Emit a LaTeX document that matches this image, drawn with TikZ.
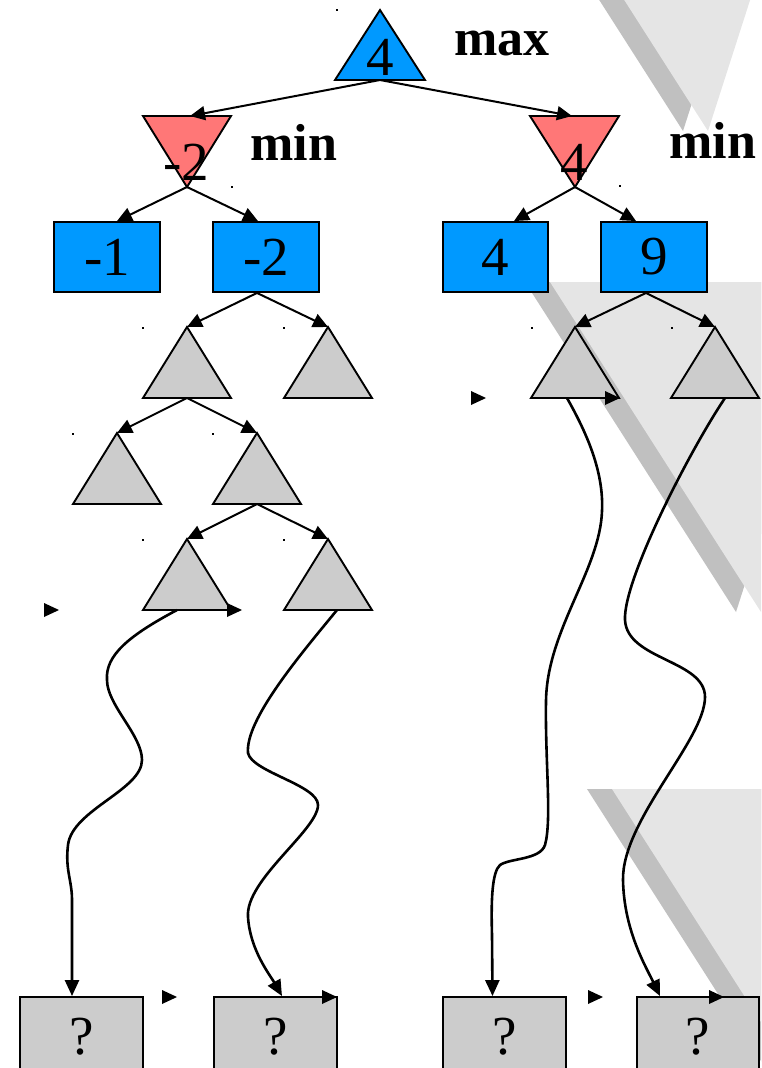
\documentclass[tikz,border=0pt]{standalone}
\usepackage{fontspec}
\setmainfont{Liberation Serif}
\usetikzlibrary{arrows.meta}
\definecolor{nodeblue}{RGB}{0,153,255}
\definecolor{minred}{RGB}{255,119,119}
\definecolor{leafgray}{RGB}{204,204,204}
\definecolor{bglight}{RGB}{229,229,229}
\definecolor{bgdark}{RGB}{192,192,192}
\newcommand\treetri[4]{% name, cx, apex y, fill
  \path[outline,fill=#4] (#2,#3) -- ({#2+44},{#3+71}) -- ({#2-44},{#3+71}) -- cycle;
  \coordinate (#1-t) at (#2,#3);
  \coordinate (#1-b) at (#2,{#3+71});
}
\newcommand\bgtri[3]{\fill[#3] (#1,#2) -- ({#1-211},{#2-330}) -- ({#1+106},{#2-330}) -- cycle;}
\newcommand\stray[2]{\fill[black] (#1,#2) -- ({#1-15},{#2-7}) -- ({#1-15},{#2+7}) -- cycle;}
\newcommand\speck[2]{\fill[black] ({#1-0.7},{#2-0.7}) rectangle ({#1+0.7},{#2+0.7});}
\begin{document}
\begin{tikzpicture}[x=1pt,y=-1pt,
  outline/.style={draw=black,line width=1.9pt,line join=miter},
  edge/.style={line width=2pt,-{Triangle[length=15pt,width=14pt]}},
  wavy/.style={line width=2.6pt,-{Triangle[length=16pt,width=14pt]}},
  val/.style={font=\fontsize{55}{60}\selectfont,anchor=base,inner sep=0pt},
  lbl/.style={font=\fontsize{52}{58}\selectfont\bfseries,anchor=base,inner sep=0pt},
  box/.style={outline,rectangle,minimum width=106pt,minimum height=70pt,inner sep=0pt,font=\fontsize{55}{60}\selectfont},
  leaf/.style={outline,fill=leafgray,rectangle,minimum width=123pt,minimum height=80pt,inner sep=0pt,font=\fontsize{55}{60}\selectfont}]
\useasboundingbox (0,0) rectangle (761,1068);
% background decoration
\begin{scope}
\clip (0,0) rectangle (761,1068);
\bgtri{683}{131}{bgdark}
\bgtri{708}{131}{bglight}
\bgtri{736}{612}{bgdark}
\bgtri{761}{612}{bglight}
\bgtri{798}{1119}{bgdark}
\bgtri{823}{1119}{bglight}
\end{scope}
% root (max)
\path[outline,fill=nodeblue] (380,10) -- (425,80) -- (335,80) -- cycle;
\coordinate (root-b) at (380,80);
\node[val] (rootval) at (380,75) {4};
\node[lbl] (maxlbl) at (502,55) {max};
% min nodes
\path[outline,fill=minred] (143,116) -- (231,116) -- (187,187) -- cycle;
\coordinate (lmin-t) at (190,116);
\coordinate (lmin-b) at (187,187);
\node[val] (lminval) at (186,180) {-2};
\node[lbl] (lminlbl) at (294,160) {min};
\path[outline,fill=minred] (530,116) -- (619,116) -- (575,187) -- cycle;
\coordinate (rmin-t) at (572,116);
\coordinate (rmin-b) at (575,187);
\node[val] (rminval) at (574,180) {4};
\node[lbl] (rminlbl) at (713,158) {min};
% value boxes
\node[box,fill=nodeblue] (b1) at (107,257) {-1};
\node[box,fill=nodeblue] (b2) at (266,257) {-2};
\node[box,fill=nodeblue,minimum width=105pt] (b3) at (495.5,257) {4};
\node[box,fill=nodeblue] (b4) at (654,257) {9};
% grey subtrees
\treetri{t1}{187}{327}{leafgray}
\treetri{t2}{328}{327}{leafgray}
\treetri{t3}{117}{433}{leafgray}
\treetri{t4}{257}{433}{leafgray}
\treetri{t5}{187}{539}{leafgray}
\treetri{t6}{328}{539}{leafgray}
\treetri{t7}{575}{327}{leafgray}
\treetri{t8}{715}{327}{leafgray}
% leaves
\node[leaf] (q1) at (81.5,1037) {?};
\node[leaf] (q2) at (275.5,1037) {?};
\node[leaf] (q3) at (504.5,1037) {?};
\node[leaf,minimum width=122pt] (q4) at (698,1037) {?};
% edges
\draw[edge] (root-b) -- (lmin-t);
\draw[edge] (root-b) -- (rmin-t);
\draw[edge] (lmin-b) -- ([xshift=10pt]b1.north);
\draw[edge] (lmin-b) -- ([xshift=-8pt]b2.north);
\draw[edge] (rmin-b) -- ([xshift=18.5pt]b3.north);
\draw[edge] (rmin-b) -- ([xshift=-18pt]b4.north);
\draw[edge] ([xshift=-9pt]b2.south) -- (t1-t);
\draw[edge] ([xshift=-9pt]b2.south) -- (t2-t);
\draw[edge] (t1-b) -- (t3-t);
\draw[edge] (t1-b) -- (t4-t);
\draw[edge] (t4-b) -- (t5-t);
\draw[edge] (t4-b) -- (t6-t);
\draw[edge] ([xshift=-8pt]b4.south) -- (t7-t);
\draw[edge] ([xshift=-8pt]b4.south) -- (t8-t);
% wavy connectors
\draw[wavy] ([xshift=-10pt]t5-b) .. controls (130,635) and (105,655) .. (107,680)
  .. controls (107,705) and (142,735) .. (142,760)
  .. controls (142,790) and (72,810) .. (68,845)
  .. controls (65,870) and (72,880) .. (72,900)
  -- ([xshift=-9.5pt]q1.north);
\draw[wavy] ([xshift=9pt]t6-b) .. controls (300,655) and (245,720) .. (248,753)
  .. controls (252,772) and (318,785) .. (318,805)
  .. controls (318,830) and (245,880) .. (248,917)
  .. controls (250,950) and (270,975) .. ([xshift=6.5pt]q2.north);
\draw[wavy] ([xshift=-8pt]t7-b) .. controls (585,430) and (604,470) .. (602,511)
  .. controls (600,570) and (547,630) .. (546,701)
  .. controls (545,760) and (552,820) .. (545,845)
  .. controls (540,860) and (510,858) .. (500,865)
  .. controls (492,872) and (491,900) .. (492,935)
  -- ([xshift=-12pt]q3.north);
\draw[wavy] ([xshift=10pt]t8-b) .. controls (690,450) and (623,580) .. (625,620)
  .. controls (627,660) and (705,660) .. (705,697)
  .. controls (705,740) and (622,820) .. (623,880)
  .. controls (624,930) and (645,965) .. ([xshift=-38pt]q4.north);
% stray arrow heads
\stray{486}{398}
\stray{620}{398}
\stray{59}{610}
\stray{242}{610}
\stray{177}{997}
\stray{337}{997}
\stray{603}{997}
\stray{724}{997}
% specks
\speck{337}{10}
\speck{232}{187}
\speck{620}{186}
\speck{143}{328}
\speck{284}{328}
\speck{532}{328}
\speck{672}{328}
\speck{73}{434}
\speck{213}{434}
\speck{143}{540}
\speck{284}{540}
\end{tikzpicture}
\end{document}
